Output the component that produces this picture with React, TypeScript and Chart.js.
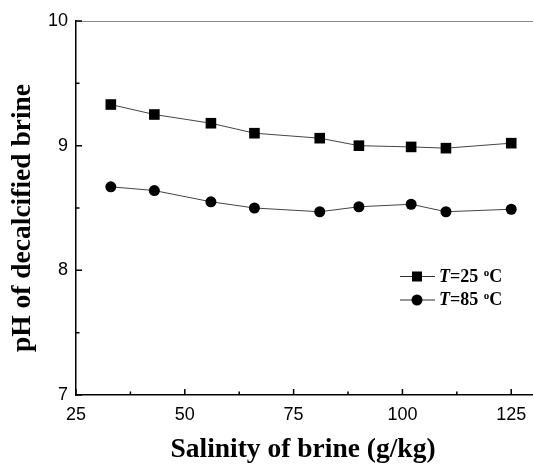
import React, { useEffect, useRef } from "react";
import { Chart, registerables } from "chart.js";

Chart.register(...registerables);

const salinity = [33, 43, 56, 66, 81, 90, 102, 110, 125];
const ph25 = [9.33, 9.25, 9.18, 9.1, 9.06, 9.0, 8.99, 8.98, 9.02];
const ph85 = [8.67, 8.64, 8.55, 8.5, 8.47, 8.51, 8.53, 8.47, 8.49];
const xTicks = [25, 50, 75, 100, 125];
const xMinor = [37.5, 62.5, 87.5, 112.5];
const yTicks = [7, 8, 9, 10];
const yMinor = [7.5, 8.5, 9.5];
const seriesTemps = ["25", "85"];
const xTitle = "Salinity of brine (g/kg)";
const yTitle = "pH of decalcified brine";

const overlay = {
  id: "overlay",
  afterDraw(chart: any) {
    const { ctx, chartArea, scales } = chart;
    const xs = scales.x;
    const ys = scales.y;
    ctx.save();
    // top border
    ctx.strokeStyle = "#8a8a8a";
    ctx.lineWidth = 1;
    ctx.beginPath();
    ctx.moveTo(chartArea.left, chartArea.top + 0.5);
    ctx.lineTo(chartArea.right, chartArea.top + 0.5);
    ctx.stroke();
    // inward ticks
    ctx.strokeStyle = "#000";
    ctx.lineWidth = 1.5;
    const b = chartArea.bottom;
    const l = chartArea.left;
    ctx.beginPath();
    xTicks.forEach((v) => {
      const px = xs.getPixelForValue(v);
      ctx.moveTo(px, b);
      ctx.lineTo(px, b - 6);
    });
    xMinor.forEach((v) => {
      const px = xs.getPixelForValue(v);
      ctx.moveTo(px, b);
      ctx.lineTo(px, b - 3.5);
    });
    yTicks.forEach((v) => {
      const py = ys.getPixelForValue(v);
      ctx.moveTo(l, py);
      ctx.lineTo(l + 6, py);
    });
    yMinor.forEach((v) => {
      const py = ys.getPixelForValue(v);
      ctx.moveTo(l, py);
      ctx.lineTo(l + 3.5, py);
    });
    ctx.stroke();

    // axis titles
    ctx.fillStyle = "#000";
    ctx.font = "bold 27.5px 'Liberation Serif', serif";
    ctx.textAlign = "center";
    ctx.textBaseline = "alphabetic";
    ctx.fillText(xTitle, 303, 457);
    ctx.save();
    ctx.translate(30, 218);
    ctx.rotate(-Math.PI / 2);
    ctx.fillText(yTitle, 0, 0);
    ctx.restore();

    // legend
    const rows = [276.5, 300];
    chart.data.datasets.forEach((ds: any, i: number) => {
      const y = rows[i];
      ctx.strokeStyle = "#333";
      ctx.lineWidth = 1;
      ctx.beginPath();
      ctx.moveTo(400, y);
      ctx.lineTo(435, y);
      ctx.stroke();
      ctx.fillStyle = "#000";
      if (i === 0) {
        ctx.fillRect(417 - 5, y - 5, 10, 10);
      } else {
        ctx.beginPath();
        ctx.arc(417, y, 5.5, 0, Math.PI * 2);
        ctx.fill();
      }
      ctx.textAlign = "left";
      ctx.textBaseline = "alphabetic";
      let x = 439;
      const base = y + 5;
      ctx.font = "italic bold 18px 'Liberation Serif', serif";
      ctx.fillText("T", x, base);
      x += ctx.measureText("T").width;
      ctx.font = "bold 18px 'Liberation Serif', serif";
      const t = "=" + seriesTemps[i] + " ";
      ctx.fillText(t, x, base);
      x += ctx.measureText(t).width + 1;
      ctx.font = "bold 11px 'Liberation Serif', serif";
      ctx.fillText("o", x, base - 6);
      x += ctx.measureText("o").width;
      ctx.font = "bold 18px 'Liberation Serif', serif";
      ctx.fillText("C", x, base);
    });
    ctx.restore();
  },
};

export default function App() {
  const ref = useRef<HTMLCanvasElement>(null);
  useEffect(() => {
    if (!ref.current) return;
    const chart = new Chart(ref.current, {
      type: "line",
      data: {
        datasets: [
          {
            label: "T=25 °C",
            data: salinity.map((x, i) => ({ x, y: ph25[i] })),
            borderColor: "#444",
            borderWidth: 1,
            pointStyle: "rect",
            pointRadius: 7.5,
            pointBackgroundColor: "#000",
            pointBorderColor: "#000",
            pointBorderWidth: 0,
            tension: 0,
          },
          {
            label: "T=85 °C",
            data: salinity.map((x, i) => ({ x, y: ph85[i] })),
            borderColor: "#444",
            borderWidth: 1,
            pointStyle: "circle",
            pointRadius: 5.5,
            pointBackgroundColor: "#000",
            pointBorderColor: "#000",
            pointBorderWidth: 0,
            tension: 0,
          },
        ],
      },
      options: {
        animation: false,
        responsive: false,
        maintainAspectRatio: false,
        devicePixelRatio: 1,
        layout: { autoPadding: false, padding: { top: 21, right: 0, left: 0, bottom: 0 } },
        plugins: { legend: { display: false }, tooltip: { enabled: false } },
        scales: {
          x: {
            type: "linear",
            min: 25,
            max: 130,
            grid: { display: false, drawTicks: false },
            border: { display: true, color: "#000", width: 1.5 },
            afterBuildTicks: (s: any) => {
              s.ticks = xTicks.map((v) => ({ value: v }));
            },
            afterFit: (s: any) => {
              s.height = 69;
              s.paddingLeft = 0;
              s.paddingRight = 0;
            },
            ticks: {
              padding: 9,
              maxRotation: 0,
              color: "#000",
              font: { family: "'Liberation Sans', Arial, sans-serif", size: 18 },
            },
          },
          y: {
            type: "linear",
            min: 7,
            max: 10,
            grid: { display: false, drawTicks: false },
            border: { display: true, color: "#000", width: 1.5 },
            afterBuildTicks: (s: any) => {
              s.ticks = yTicks.map((v) => ({ value: v }));
            },
            afterFit: (s: any) => {
              s.width = 76;
              s.paddingTop = 0;
              s.paddingBottom = 0;
            },
            ticks: {
              padding: 8,
              color: "#000",
              font: { family: "'Liberation Sans', Arial, sans-serif", size: 18 },
            },
          },
        },
      },
      plugins: [overlay],
    });
    return () => chart.destroy();
  }, []);
  return (
    <div style={{ position: "fixed", left: 0, top: 0, width: 533, height: 464, background: "#fff" }}>
      <canvas ref={ref} width={533} height={464} style={{ display: "block", width: 533, height: 464 }} />
    </div>
  );
}
